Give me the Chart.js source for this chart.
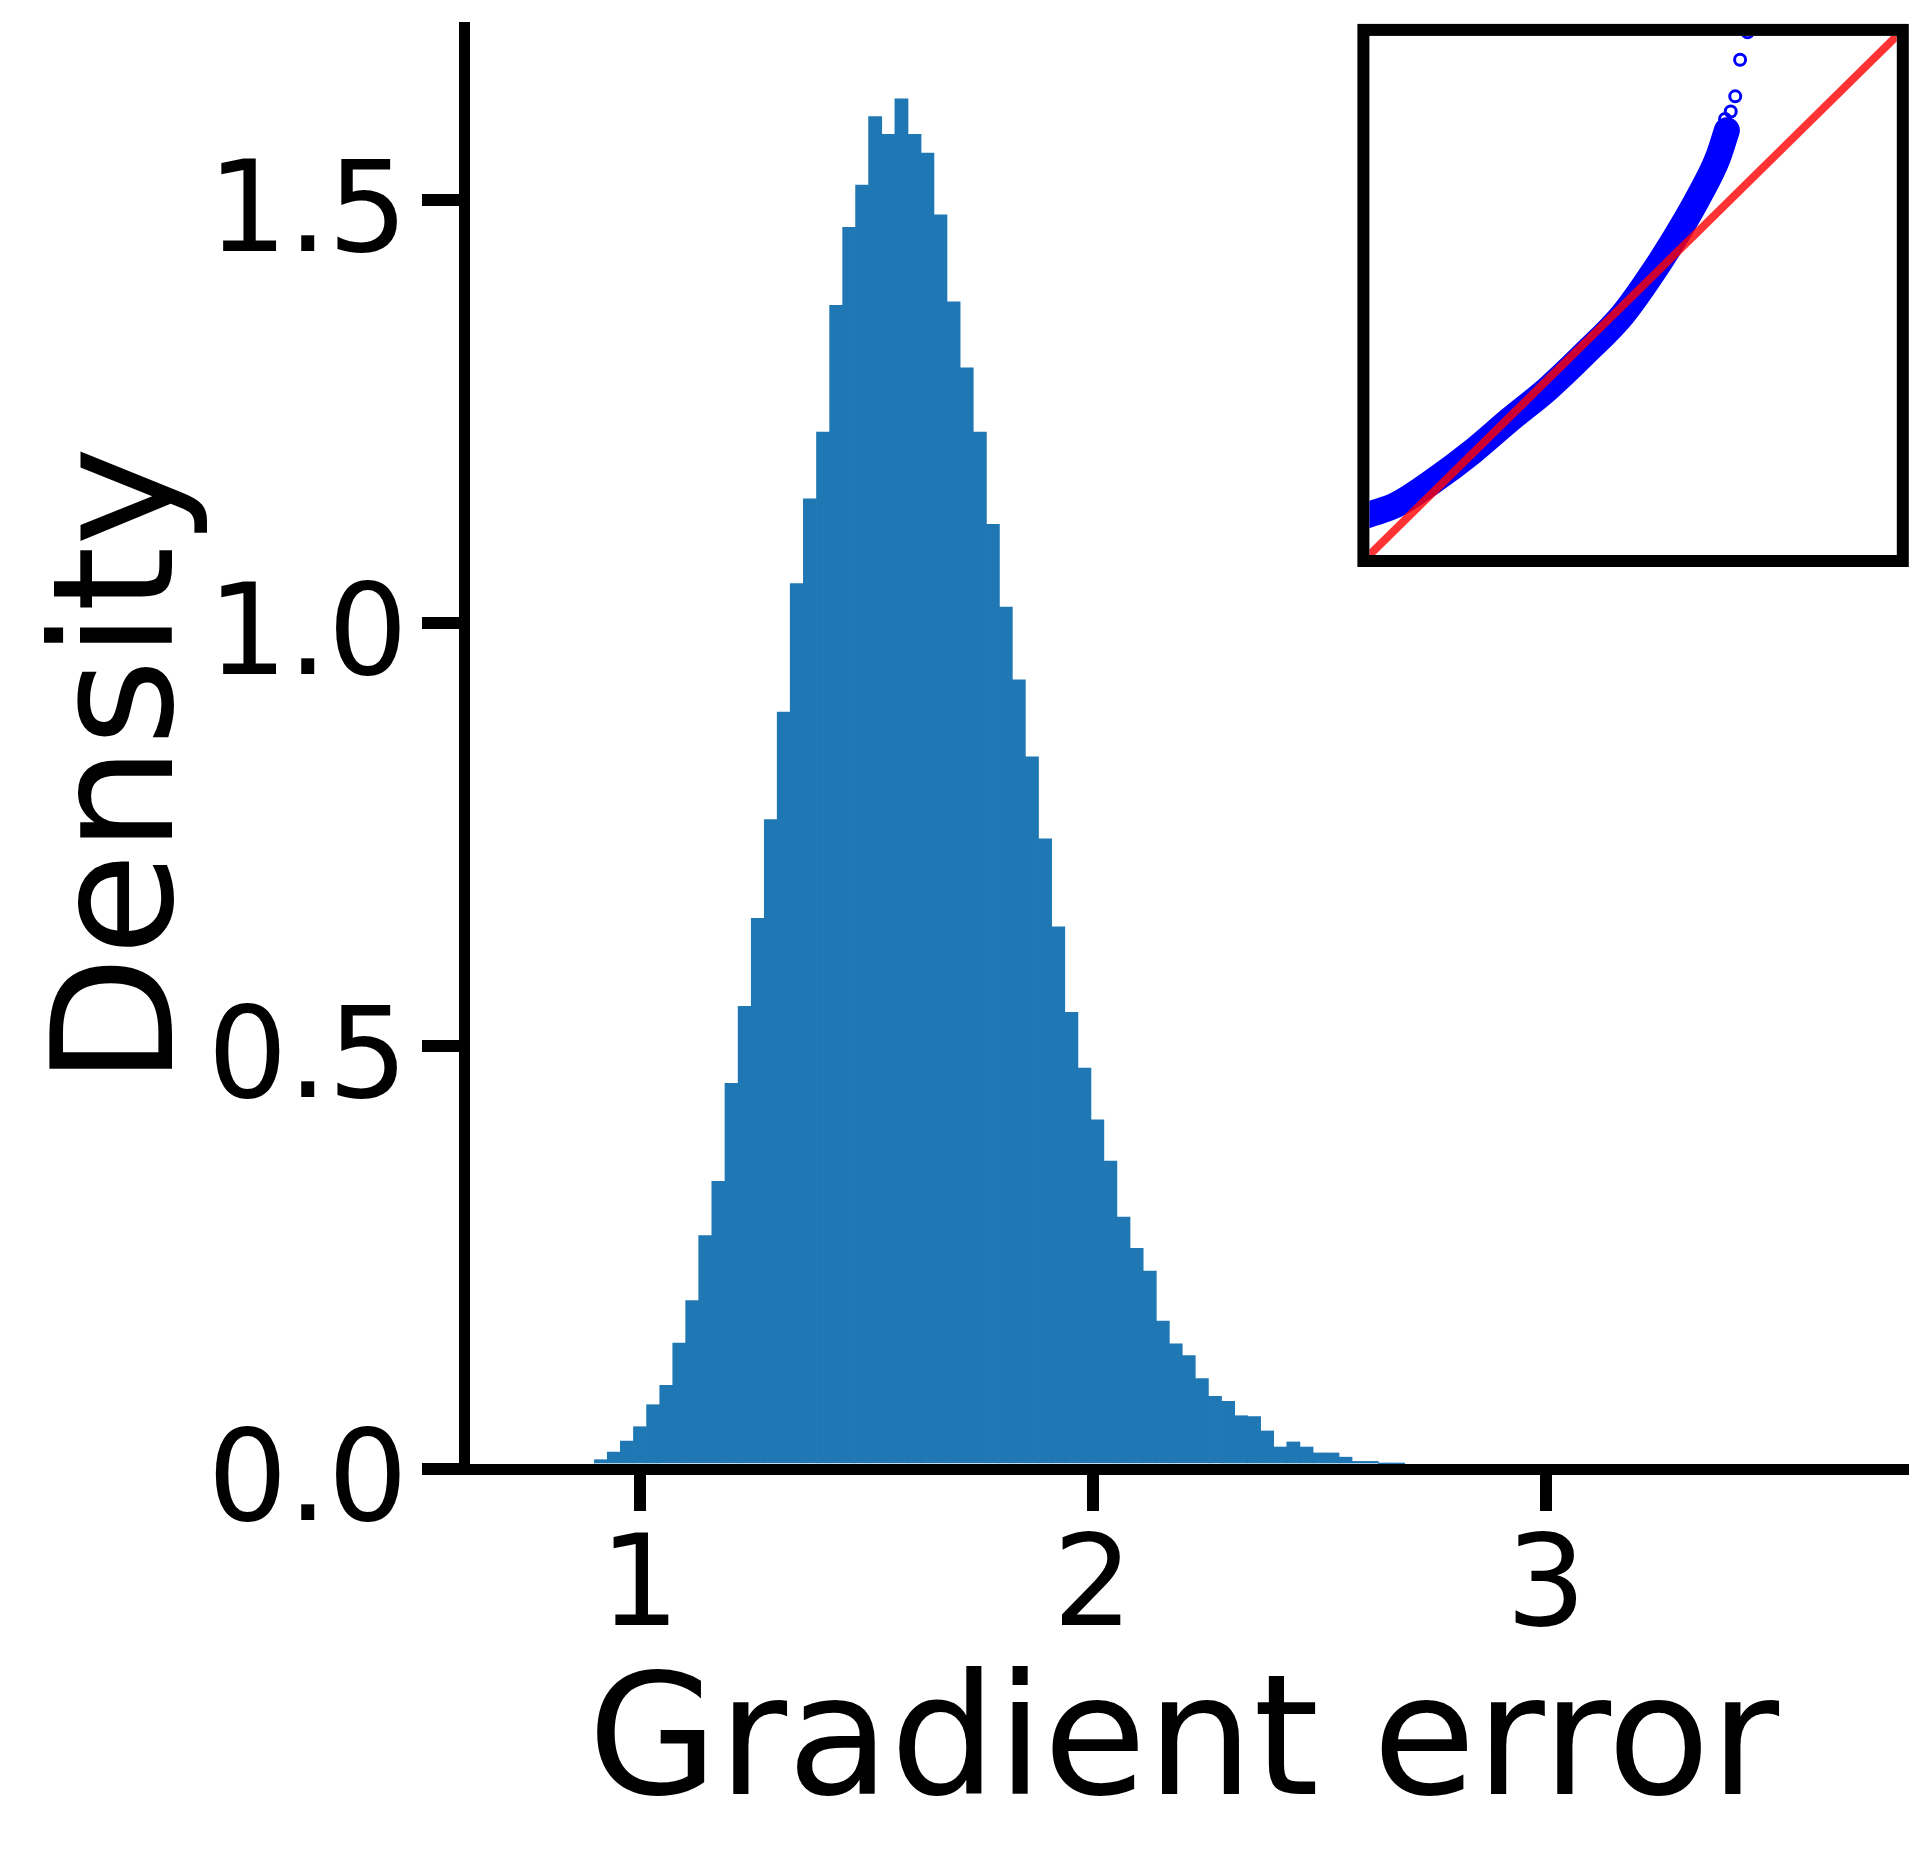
<!DOCTYPE html>
<html>
<head>
<meta charset="utf-8">
<title>Gradient error density</title>
<script src="https://cdn.jsdelivr.net/npm/chart.js@4.4.1/dist/chart.umd.min.js"></script>
<style>
  html, body { margin: 0; padding: 0; background: #fff; }
  #wrap { position: relative; width: 1932px; height: 1854px; }
  #main { position: absolute; left: 0; top: 0; }
  #inset { position: absolute; left: 1340px; top: 0; }
</style>
</head>
<body>
<div id="wrap">
  <canvas id="main" width="1932" height="1854"></canvas>
  <canvas id="inset" width="592" height="600"></canvas>
</div>
<script>
// histogram bin edges (63 edges -> 62 bins)
const binEdges = [
  0.900, 0.928, 0.957, 0.986, 1.015, 1.044, 1.073, 1.101, 1.130, 1.159,
  1.188, 1.217, 1.246, 1.275, 1.303, 1.332, 1.361, 1.390, 1.419, 1.448,
  1.476, 1.505, 1.534, 1.563, 1.592, 1.621, 1.649, 1.678, 1.707, 1.736,
  1.765, 1.794, 1.822, 1.851, 1.880, 1.909, 1.938, 1.967, 1.996, 2.024,
  2.053, 2.082, 2.111, 2.140, 2.169, 2.197, 2.226, 2.255, 2.284, 2.313,
  2.342, 2.370, 2.399, 2.428, 2.457, 2.486, 2.515, 2.543, 2.572, 2.601,
  2.630, 2.659, 2.688
];
const density = [
  0.011, 0.020, 0.033, 0.050, 0.076, 0.099, 0.149, 0.199, 0.276, 0.340,
  0.456, 0.547, 0.651, 0.768, 0.895, 1.047, 1.147, 1.226, 1.376, 1.468,
  1.518, 1.599, 1.578, 1.620, 1.578, 1.556, 1.483, 1.380, 1.302, 1.226,
  1.117, 1.019, 0.933, 0.842, 0.745, 0.641, 0.540, 0.474, 0.413, 0.364,
  0.298, 0.261, 0.234, 0.175, 0.148, 0.134, 0.107, 0.086, 0.080, 0.063,
  0.062, 0.045, 0.026, 0.032, 0.026, 0.019, 0.019, 0.014, 0.009, 0.009,
  0.003, 0.002
];
const xTickValues = [1, 2, 3];
const yTickValues = [0, 0.5, 1.0, 1.5];
const xLimits = [0.612, 3.788];
const yLimits = [0, 1.705];

// inset: Q-Q plot (theoretical vs sample quantiles)
const qqLimits = [0.62, 3.78];
const qqTheoretical = [0.600, 0.624, 0.783, 1.009, 1.235, 1.461, 1.688, 1.914, 2.140, 2.366, 2.479, 2.592, 2.706, 2.762];
const qqSample      = [0.860, 0.868, 0.926, 1.075, 1.247, 1.443, 1.631, 1.849, 2.086, 2.412, 2.597, 2.799, 3.033, 3.205];
const outlierTheoretical = [2.751, 2.785, 2.812, 2.841, 2.886];
const outlierSample      = [3.274, 3.320, 3.412, 3.635, 3.802];

const FONT = 'DejaVu Sans';
const BAR_BLUE = '#1f77b4';

var histData = density.map(function (d, i) {
    return { x: (binEdges[i] + binEdges[i + 1]) / 2, y: d };
});

function axisStyle() {
    return {
        offset: false,
        border: { display: true, color: '#000', width: 11, z: 1 },
        grid: {
            display: true,
            offset: false,
            z: 1,
            drawOnChartArea: false,
            drawTicks: true,
            tickLength: 42,
            lineWidth: 12,
            tickWidth: 12,
            color: '#000',
            tickColor: '#000'
        }
    };
}

// y axis title, placed like the matplotlib label (slightly below the axes centre)
var densityTitle = {
    id: 'densityTitle',
    afterDraw: function (chart) {
        var ctx = chart.ctx;
        ctx.save();
        ctx.fillStyle = '#000';
        ctx.font = '168px "' + FONT + '"';
        ctx.textAlign = 'center';
        ctx.textBaseline = 'middle';
        ctx.translate(128, 766);
        ctx.rotate(-Math.PI / 2);
        ctx.fillText('Density', 0, 0);
        ctx.restore();
    }
};

var mainChart = new Chart(document.getElementById('main'), {
    type: 'bar',
    data: {
        datasets: [{
            data: histData,
            backgroundColor: BAR_BLUE,
            borderWidth: 0,
            barPercentage: 1,
            categoryPercentage: 1,
            barThickness: 'flex'
        }]
    },
    options: {
        responsive: false,
        animation: false,
        devicePixelRatio: 1,
        layout: { padding: { left: 0, top: 27, right: 29, bottom: 0 } },
        plugins: { legend: { display: false }, tooltip: { enabled: false } },
        scales: {
            x: Object.assign(axisStyle(), {
                type: 'linear',
                min: xLimits[0],
                max: xLimits[1],
                afterBuildTicks: function (s) { s.ticks = xTickValues.map(function (v) { return { value: v }; }); },
                afterFit: function (s) {
                    s.height = 385;
                    s.paddingLeft = 0;
                    s.paddingRight = 0;
                },
                ticks: {
                    color: '#000',
                    padding: 6,
                    maxRotation: 0,
                    font: { family: FONT, size: 126 },
                    callback: function (v) { return String(v); }
                },
                title: {
                    display: true,
                    text: 'Gradient error',
                    color: '#000',
                    font: { family: FONT, size: 168 },
                    padding: { top: 0, bottom: 3 }
                }
            }),
            y: Object.assign(axisStyle(), {
                type: 'linear',
                min: yLimits[0],
                max: yLimits[1],
                afterBuildTicks: function (s) { s.ticks = yTickValues.map(function (v) { return { value: v }; }); },
                afterFit: function (s) {
                    s.width = 464;
                    s.paddingTop = 0;
                    s.paddingBottom = 0;
                },
                ticks: {
                    color: '#000',
                    padding: 14,
                    labelOffset: 18,
                    font: { family: FONT, size: 126 },
                    callback: function (v) { return Number(v).toFixed(1); }
                },
                title: { display: false }
            })
        }
    },
    plugins: [densityTitle]
});

// frame around the inset axes, drawn just outside the plotting area
var insetFrame = {
    id: 'insetFrame',
    afterDraw: function (chart) {
        var a = chart.chartArea;
        var ctx = chart.ctx;
        var w = 12;
        ctx.save();
        ctx.strokeStyle = '#000';
        ctx.lineWidth = w;
        ctx.strokeRect(a.left - w / 2, a.top - w / 2, a.right - a.left + w, a.bottom - a.top + w);
        ctx.restore();
    }
};

var insetChart = new Chart(document.getElementById('inset'), {
    type: 'scatter',
    data: {
        datasets: [
            {
                // reference line y = x
                data: [{ x: qqLimits[0], y: qqLimits[0] }, { x: qqLimits[1], y: qqLimits[1] }],
                showLine: true,
                borderColor: 'rgba(255,0,0,0.8)',
                borderWidth: 8,
                pointRadius: 0,
                clip: 0
            },
            {
                data: outlierTheoretical.map(function (x, i) { return { x: x, y: outlierSample[i] }; }),
                showLine: false,
                pointStyle: 'circle',
                pointRadius: 5.5,
                pointBorderWidth: 3,
                pointBorderColor: '#0000ff',
                pointBackgroundColor: 'rgba(0,0,0,0)',
                clip: 0
            },
            {
                data: qqTheoretical.map(function (x, i) { return { x: x, y: qqSample[i] }; }),
                showLine: true,
                borderColor: '#0000ff',
                borderWidth: 26,
                borderCapStyle: 'round',
                borderJoinStyle: 'round',
                cubicInterpolationMode: 'monotone',
                pointRadius: 0,
                clip: 0
            }
        ]
    },
    options: {
        responsive: false,
        animation: false,
        devicePixelRatio: 1,
        layout: { padding: { left: 29.4, top: 35.9, right: 35.2, bottom: 45 } },
        plugins: { legend: { display: false }, tooltip: { enabled: false } },
        scales: {
            x: { type: 'linear', display: false, min: qqLimits[0], max: qqLimits[1] },
            y: { type: 'linear', display: false, min: qqLimits[0], max: qqLimits[1] }
        }
    },
    plugins: [insetFrame]
});
</script>
</body>
</html>
